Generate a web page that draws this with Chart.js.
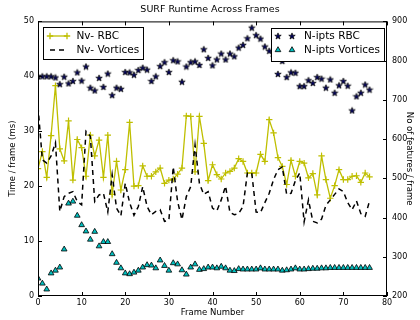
<!DOCTYPE html>
<html>
<head>
<meta charset="utf-8">
<script src="https://cdn.jsdelivr.net/npm/chart.js@4.4.0/dist/chart.umd.min.js"></script>
<style>
    html, body { margin: 0; padding: 0; background: #fff; }
</style>
</head>
<body>
<canvas id="surfChart" width="420" height="320"></canvas>
<script>
// Frame numbers (x axis)
var frames = [0, 1, 2, 3, 4, 5, 6, 7, 8, 9, 10, 11, 12, 13, 14, 15, 16, 17, 18, 19,
    20, 21, 22, 23, 24, 25, 26, 27, 28, 29, 30, 31, 32, 33, 34, 35, 36, 37, 38, 39,
    40, 41, 42, 43, 44, 45, 46, 47, 48, 49, 50, 51, 52, 53, 54, 55, 56, 57, 58, 59,
    60, 61, 62, 63, 64, 65, 66, 67, 68, 69, 70, 71, 72, 73, 74, 75, 76];

// Time / frame (ms) - left axis
var nvRbc = [23.2, 26.3, 21.6, 29.2, 38.3, 26.8, 24.6, 31.9, 21.1, 28.5,
    27.0, 21.8, 29.3, 25.5, 28.4, 21.6, 29.3, 18.5, 24.5, 19.3,
    23.0, 31.6, 20.0, 20.1, 23.7, 21.8, 21.8, 22.6, 23.3, 20.5,
    21.1, 21.3, 22.2, 23.3, 32.8, 32.7, 22.6, 32.7, 27.8, 21.0,
    23.9, 22.1, 21.3, 22.4, 22.7, 23.3, 25.0, 24.5, 22.4, 22.4,
    22.4, 25.8, 24.5, 32.1, 29.7, 25.2, 23.6, 20.3, 24.7, 21.8,
    24.5, 24.2, 21.5, 22.3, 18.4, 25.5, 21.2, 17.8, 20.1, 23.0,
    21.2, 21.2, 21.8, 21.9, 20.7, 22.4, 21.7];
var nvVortices = [34.5, 24.8, 24.2, 25.5, 27.9, 15.4, 18.1, 18.7, 19.0, 17.2,
    16.6, 30.0, 29.1, 17.2, 18.4, 18.7, 15.3, 22.1, 16.0, 14.6,
    20.5, 17.0, 14.7, 16.3, 19.9, 16.3, 14.8, 15.4, 15.7, 13.6,
    13.8, 23.5, 17.2, 13.9, 18.1, 19.9, 27.5, 20.5, 18.5, 19.0,
    16.0, 15.5, 17.5, 20.0, 15.2, 14.8, 15.0, 16.3, 22.4, 22.4,
    15.3, 15.2, 17.0, 18.7, 21.2, 23.0, 23.5, 18.5, 18.7, 21.0,
    22.4, 13.5, 17.5, 13.6, 13.3, 14.0, 16.5, 17.5, 18.5, 19.5,
    19.0, 17.0, 15.7, 17.3, 15.0, 14.5, 17.3];

// No of features / frame - right axis
var niptsRbc = [760, 760, 760, 760, 757, 740, 759, 742, 748, 770,
    749, 785, 731, 724, 756, 733, 767, 712, 731, 728,
    771, 770, 764, 776, 782, 777, 748, 760, 786, 796,
    771, 801, 798, 746, 785, 796, 798, 789, 829, 807,
    788, 803, 818, 803, 818, 811, 833, 840, 857, 884,
    865, 856, 836, 825, 810, 766, 799, 758, 770, 769,
    735, 735, 750, 743, 758, 754, 731, 752, 718, 737,
    748, 736, 673, 709, 718, 739, 726];
var niptsVortices = [245, 232, 217, 258, 265, 273, 319, 436, 441, 405,
    381, 365, 344, 364, 327, 338, 338, 307, 285, 271,
    258, 256, 260, 265, 273, 279, 278, 271, 291, 277,
    265, 284, 281, 266, 255, 273, 281, 267, 269, 273,
    273, 271, 275, 271, 265, 264, 269, 268, 268, 268,
    268, 271, 268, 268, 268, 268, 265, 266, 268, 271,
    268, 268, 269, 270, 270, 271, 271, 272, 272, 272,
    272, 272, 272, 272, 272, 272, 272];

// Tick labels
var xTicks = [0, 10, 20, 30, 40, 50, 60, 70, 80];
var timeTicks = [0, 10, 20, 30, 40, 50];
var featureTicks = [200, 300, 400, 500, 600, 700, 800, 900];

var FONT = "'DejaVu Sans', sans-serif";
var YELLOW = '#bfbf00';
var CYAN = '#00bfbf';

function toPoints(values) {
    return values.map(function (v, i) { return { x: frames[i], y: v }; });
}

function setTicks(list) {
    return function (axis) {
        axis.ticks = list.map(function (v) { return { value: v }; });
    };
}

// filled five point star marker (matplotlib '*')
var starImg = document.createElement('canvas');
starImg.width = 8;
starImg.height = 8;
(function () {
    var c = starImg.getContext('2d');
    c.beginPath();
    for (var i = 0; i < 10; i++) {
        var r = i % 2 === 0 ? 3.4 : 1.4;
        var a = -Math.PI / 2 + i * Math.PI / 5;
        var px = 4 + r * Math.cos(a), py = 4.3 + r * Math.sin(a);
        if (i === 0) c.moveTo(px, py); else c.lineTo(px, py);
    }
    c.closePath();
    c.fillStyle = '#00005a';
    c.fill();
    c.strokeStyle = '#000';
    c.lineWidth = 0.7;
    c.stroke();
})();

// frame, inward ticks and the two legends
var axesPlugin = {
    id: 'axesPlugin',
    afterDatasetsDraw: function (chart) {
        var ctx = chart.ctx;
        var a = chart.chartArea;
        var sx = chart.scales.x, sy = chart.scales.y, sy1 = chart.scales.y1;
        ctx.save();
        ctx.strokeStyle = '#000';
        ctx.lineWidth = 1;
        ctx.beginPath();
        xTicks.forEach(function (v) {
            var px = Math.round(sx.getPixelForValue(v)) + 0.5;
            ctx.moveTo(px, a.bottom); ctx.lineTo(px, a.bottom - 4);
            ctx.moveTo(px, a.top); ctx.lineTo(px, a.top + 4);
        });
        timeTicks.forEach(function (v) {
            var py = Math.round(sy.getPixelForValue(v)) + 0.5;
            ctx.moveTo(a.left, py); ctx.lineTo(a.left + 4, py);
        });
        featureTicks.forEach(function (v) {
            var py = Math.round(sy1.getPixelForValue(v)) + 0.5;
            ctx.moveTo(a.right, py); ctx.lineTo(a.right - 4, py);
        });
        ctx.stroke();
        ctx.strokeRect(a.left + 0.5, a.top + 0.5, a.right - a.left - 1, a.bottom - a.top - 1);

        ctx.font = '10.5px ' + FONT;
        ctx.textBaseline = 'middle';
        ctx.textAlign = 'left';

        // left legend (time series)
        ctx.fillStyle = '#fff';
        ctx.fillRect(43, 27, 100, 32);
        ctx.strokeRect(43.5, 27.5, 100, 32);
        ctx.strokeStyle = YELLOW;
        ctx.lineWidth = 1.3;
        ctx.beginPath(); ctx.moveTo(50, 36); ctx.lineTo(67, 36); ctx.stroke();
        Chart.helpers.drawPoint(ctx, { pointStyle: 'cross', radius: 3.2, rotation: 0, borderWidth: 1.2 }, 50, 36);
        Chart.helpers.drawPoint(ctx, { pointStyle: 'cross', radius: 3.2, rotation: 0, borderWidth: 1.2 }, 67, 36);
        ctx.strokeStyle = '#000';
        ctx.lineWidth = 1.5;
        ctx.setLineDash([5, 4]);
        ctx.beginPath(); ctx.moveTo(50, 50); ctx.lineTo(67, 50); ctx.stroke();
        ctx.setLineDash([]);
        ctx.fillStyle = '#000';
        ctx.fillText('Nv- RBC', 76.5, 36);
        ctx.fillText('Nv- Vortices', 76.5, 50);

        // right legend (feature counts)
        ctx.lineWidth = 1;
        ctx.fillStyle = '#fff';
        ctx.fillRect(271, 28, 113, 33);
        ctx.strokeRect(271.5, 28.5, 113, 33);
        [278, 292].forEach(function (px) {
            Chart.helpers.drawPoint(ctx, { pointStyle: starImg, radius: 4, rotation: 0 }, px, 36);
            ctx.fillStyle = CYAN;
            ctx.strokeStyle = '#000';
            ctx.lineWidth = 0.8;
            Chart.helpers.drawPoint(ctx, { pointStyle: 'triangle', radius: 3.3, rotation: 0, borderWidth: 0.8 }, px, 50);
        });
        ctx.fillStyle = '#000';
        ctx.fillText('N-ipts RBC', 304, 36);
        ctx.fillText('N-ipts Vortices', 304, 50);
        ctx.restore();
    }
};

// Get the chart canvas
var surfChart = document.getElementById('surfChart').getContext('2d');

var chart = new Chart(surfChart, {
    type: 'line',
    data: {
        datasets: [
            {
                label: 'Nv- RBC',
                data: toPoints(nvRbc),
                yAxisID: 'y',
                borderColor: YELLOW,
                backgroundColor: YELLOW,
                borderWidth: 1.3,
                pointStyle: 'cross',
                pointRadius: 3.2,
                pointBorderWidth: 1.2,
                pointBorderColor: YELLOW,
                fill: false,
                order: 4
            },
            {
                label: 'Nv- Vortices',
                data: toPoints(nvVortices),
                yAxisID: 'y',
                borderColor: '#000',
                borderDash: [5, 4], // dashed line
                borderWidth: 1.5,
                pointRadius: 0,
                fill: false,
                order: 3
            },
            {
                label: 'N-ipts RBC',
                data: toPoints(niptsRbc),
                yAxisID: 'y1',
                showLine: false,
                pointStyle: starImg,
                pointRadius: 4,
                order: 2
            },
            {
                label: 'N-ipts Vortices',
                data: toPoints(niptsVortices),
                yAxisID: 'y1',
                showLine: false,
                pointStyle: 'triangle',
                pointRadius: 3.3,
                pointBackgroundColor: CYAN,
                pointBorderColor: '#000',
                pointBorderWidth: 0.8,
                order: 1
            }
        ]
    },
    options: {
        responsive: false,
        animation: false,
        layout: { padding: 0 },
        scales: {
            x: {
                type: 'linear',
                min: 0,
                max: 80,
                afterBuildTicks: setTicks(xTicks),
                afterFit: function (s) { s.height = 24; },
                grid: { display: false, drawTicks: false },
                border: { display: false },
                ticks: { color: '#000', padding: 2, maxRotation: 0, font: { family: FONT, size: 8 } },
                title: { display: true, text: 'Frame Number', color: '#000', padding: { top: 0, bottom: 2 }, font: { family: FONT, size: 8.5 } }
            },
            y: {
                position: 'left',
                min: 0,
                max: 50,
                afterBuildTicks: setTicks(timeTicks),
                afterFit: function (s) { s.width = 38; },
                grid: { display: false, drawTicks: false },
                border: { display: false },
                ticks: { color: '#000', padding: 4, font: { family: FONT, size: 8 } },
                title: { display: true, text: 'Time / frame (ms)', color: '#000', padding: { top: 8, bottom: 0 }, font: { family: FONT, size: 8.5 } }
            },
            y1: {
                position: 'right',
                min: 200,
                max: 900,
                afterBuildTicks: setTicks(featureTicks),
                afterFit: function (s) { s.width = 33; },
                grid: { display: false, drawTicks: false },
                border: { display: false },
                ticks: { color: '#000', padding: 5, font: { family: FONT, size: 8 } },
                title: { display: true, text: 'No of features / frame', color: '#000', padding: { top: 6, bottom: 0 }, font: { family: FONT, size: 8.5 } }
            }
        },
        plugins: {
            title: {
                display: true,
                text: 'SURF Runtime Across Frames',
                color: '#000',
                font: { family: FONT, size: 9.5, weight: 'normal' },
                padding: { top: 4, bottom: 6 }
            },
            legend: { display: false },
            tooltip: { enabled: false }
        }
    },
    plugins: [axesPlugin]
});
</script>
</body>
</html>
